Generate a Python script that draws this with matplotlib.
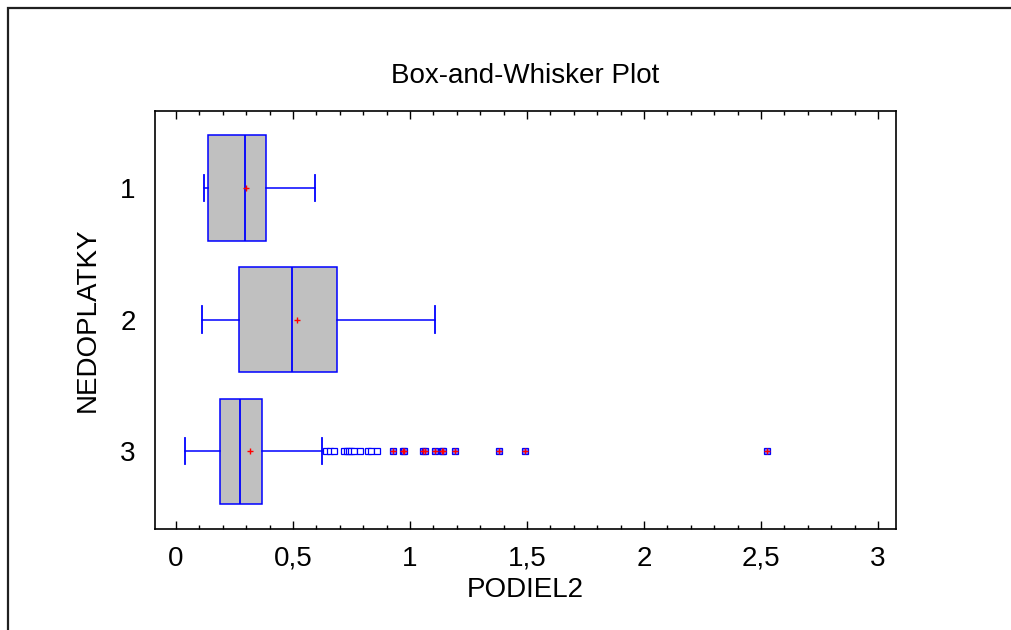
import matplotlib.pyplot as plt
from matplotlib.patches import Rectangle

plt.rcParams['font.family'] = ['Liberation Sans', 'DejaVu Sans']

# Box statistics (PODIEL2 by NEDOPLATKY group)
groups = ['1', '2', '3']
q1 = [0.137, 0.269, 0.188]
medians = [0.295, 0.497, 0.274]
q3 = [0.385, 0.689, 0.369]
whisk_lo = [0.120, 0.112, 0.037]
whisk_hi = [0.594, 1.107, 0.625]
means = [0.300, 0.518, 0.316]

# outside points of group 3 (open squares) and far outside points (square with red plus)
near_out3 = [0.640, 0.658, 0.674, 0.719, 0.729, 0.739, 0.749, 0.759,
             0.785, 0.822, 0.835, 0.859]
far_out3 = [0.927, 0.969, 0.975, 1.056, 1.066, 1.105, 1.137, 1.142,
            1.194, 1.382, 1.491, 2.526]

xticks = [0, 0.5, 1, 1.5, 2, 2.5, 3]
xticklabels = ['0', '0,5', '1', '1,5', '2', '2,5', '3']

fig = plt.figure(figsize=(10.11, 6.30), dpi=100)
ax = fig.add_axes([0.1533, 0.1603, 0.733, 0.6635])

stats = []
for i, g in enumerate(groups):
    stats.append({'label': g, 'q1': q1[i], 'med': medians[i], 'q3': q3[i],
                  'whislo': whisk_lo[i], 'whishi': whisk_hi[i],
                  'mean': means[i], 'fliers': []})

blue = '#0000ff'
ax.bxp(stats, positions=[1, 2, 3], widths=0.8, vert=False, patch_artist=True,
       showmeans=True, showfliers=False,
       boxprops=dict(facecolor='#c0c0c0', edgecolor=blue, linewidth=1.1),
       medianprops=dict(color=blue, linewidth=1.3),
       whiskerprops=dict(color=blue, linewidth=1.1),
       capprops=dict(color=blue, linewidth=1.3),
       capwidths=0.2,
       meanprops=dict(marker='+', markeredgecolor='red', markersize=5,
                      markeredgewidth=1.0, linestyle='none'))

ax.plot(near_out3, [3] * len(near_out3), linestyle='none', marker='s',
        markersize=4, markerfacecolor='white', markeredgecolor=blue,
        markeredgewidth=0.9)
ax.plot(far_out3, [3] * len(far_out3), linestyle='none', marker='s',
        markersize=4, markerfacecolor='#8080ff', markeredgecolor=blue,
        markeredgewidth=0.9)
ax.plot(far_out3, [3] * len(far_out3), linestyle='none', marker='+',
        markersize=4, markeredgecolor='red', markeredgewidth=1.0)

ax.set_xlim(-0.09, 3.077)
ax.set_ylim(3.59, 0.417)
ax.set_xticks(xticks)
ax.set_xticklabels(xticklabels)
ax.set_xticks([x / 10 for x in range(0, 31)], minor=True)
ax.set_yticks([1, 2, 3])
ax.set_yticklabels(groups)

ax.tick_params(axis='x', which='both', direction='in', top=True, bottom=True,
               labelsize=20, pad=12, width=1.0, color='black')
ax.tick_params(axis='x', which='major', length=6)
ax.tick_params(axis='x', which='minor', length=3)
ax.tick_params(axis='y', length=0, labelsize=20, pad=14)
for sp in ax.spines.values():
    sp.set_linewidth(1.2)
    sp.set_color('black')

ax.set_title('Box-and-Whisker Plot', fontsize=20, pad=20)
ax.set_xlabel('PODIEL2', fontsize=20, labelpad=4)
ax.set_ylabel('NEDOPLATKY', fontsize=20, labelpad=14)

# outer frame of the exported graphics pane
fig.add_artist(Rectangle((8 / 1011, -0.1), 1.2, 1.1 - 8 / 630,
                         transform=fig.transFigure, fill=False,
                         edgecolor='#202020', linewidth=1.6))

fig.savefig('out.png', dpi=100)
